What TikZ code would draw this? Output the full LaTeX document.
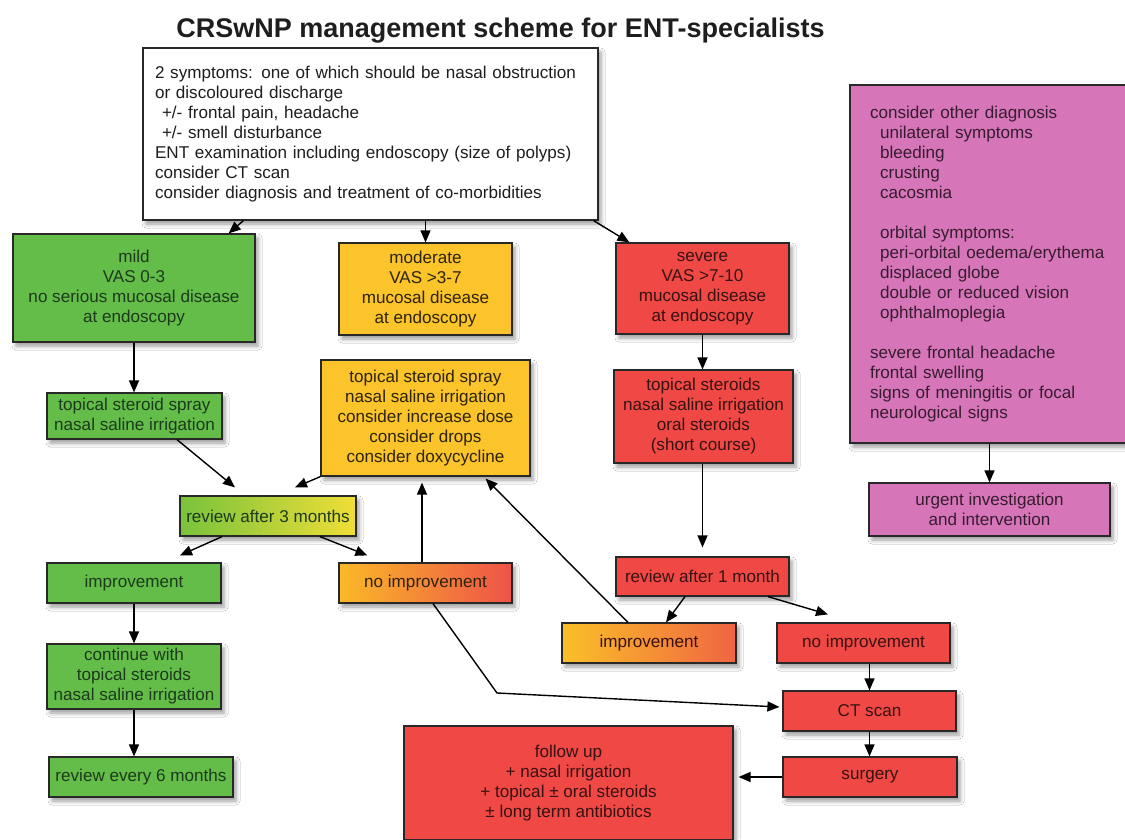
\documentclass[tikz,border=0pt]{standalone}
\usepackage{fontspec}
\setmainfont{Liberation Sans}
\usetikzlibrary{arrows.meta,shadows.blur,calc}
\definecolor{cborder}{RGB}{40,40,40}
\definecolor{cgreen}{RGB}{99,189,72}
\definecolor{cyellow}{RGB}{250,196,42}
\definecolor{cred}{RGB}{240,72,68}
\definecolor{cpink}{RGB}{214,117,183}
\definecolor{tgreen}{RGB}{28,58,28}
\definecolor{tyellow}{RGB}{45,35,10}
\definecolor{tred}{RGB}{55,18,18}
\definecolor{tpink}{RGB}{55,28,48}
\definecolor{ttop}{RGB}{30,30,30}
\definecolor{revL}{RGB}{120,195,60}
\definecolor{revR}{RGB}{240,222,55}
\definecolor{orL}{RGB}{250,185,40}
\definecolor{orR}{RGB}{238,82,72}
\definecolor{ibL}{RGB}{250,192,40}
\definecolor{ibR}{RGB}{240,100,66}
\begin{document}
\begin{tikzpicture}[x=1pt,y=-1pt,
  box/.style={draw=cborder, line width=1.2pt, rectangle, inner sep=2pt, align=center,
    font=\fontsize{17.1pt}{20pt}\selectfont,
    blur shadow={shadow xshift=3pt, shadow yshift=-4pt, shadow blur radius=4pt, shadow opacity=40}},
  wh/.style 2 args={minimum width=#1pt, minimum height=#2pt},
  gbox/.style={box, fill=cgreen, text=tgreen},
  ybox/.style={box, fill=cyellow, text=tyellow},
  rbox/.style={box, fill=cred, text=tred},
  pbox/.style={box, fill=cpink, text=tpink},
  arr/.style={draw=black, line width=1.4pt, -{Triangle[length=12pt,width=10pt]}}]
\useasboundingbox (0,0) rectangle (1125,839);
\fill[white] (0,0) rectangle (1125,839);

\node[font=\fontsize{27pt}{30pt}\selectfont\bfseries, anchor=base, text=ttop] (title) at (500.5,37) {CRSwNP management scheme for ENT-specialists};

\node[box, fill=white, text=ttop, wh={455}{172}, align=left, text width=431pt, inner xsep=12pt] (top) at (370.5,134) {2 symptoms: one of which should be nasal obstruction\\
or discoloured discharge\\
\hspace*{7pt}+/- frontal pain, headache\\
\hspace*{7pt}+/- smell disturbance\\
ENT examination including endoscopy (size of polyps)\\
consider CT scan\\
consider diagnosis and treatment of co-morbidities};

\node[gbox, wh={242}{108}] (mild) at (134,288) {mild\\VAS 0-3\\no serious mucosal disease\\at endoscopy};
\node[ybox, wh={173}{92}] (mod) at (425.5,289) {moderate\\VAS >3-7\\mucosal disease\\at endoscopy};
\node[rbox, wh={173}{91}] (sev) at (702.5,288.5) {severe\\VAS >7-10\\mucosal disease\\at endoscopy};

\node[pbox, wh={285}{358}, align=left, text width=245pt, inner xsep=20pt] (pink) at (992.5,264) {consider other diagnosis\\
\hspace*{10pt}unilateral symptoms\\
\hspace*{10pt}bleeding\\
\hspace*{10pt}crusting\\
\hspace*{10pt}cacosmia\\[20pt]
\hspace*{10pt}orbital symptoms:\\
\hspace*{10pt}peri-orbital oedema/erythema\\
\hspace*{10pt}displaced globe\\
\hspace*{10pt}double or reduced vision\\
\hspace*{10pt}ophthalmoplegia\\[20pt]
severe frontal headache\\
frontal swelling\\
signs of meningitis or focal\\
neurological signs};
\node[pbox, wh={241}{53}] (urgent) at (989.5,509.5) {urgent investigation\\and intervention};

\node[gbox, wh={175}{46}] (mildtx) at (134.5,416) {topical steroid spray\\nasal saline irrigation};
\node[ybox, wh={209}{116}] (modtx) at (425.5,418) {topical steroid spray\\nasal saline irrigation\\consider increase dose\\consider drops\\consider doxycycline};
\node[rbox, wh={179}{93}] (sevtx) at (703.5,416.5) {topical steroids\\nasal saline irrigation\\oral steroids\\(short course)};

\node[box, left color=revL, right color=revR, text=tgreen, wh={176}{40}] (rev3) at (268,516) {review after 3 months};
\node[gbox, wh={174}{40}] (impA) at (134,583) {improvement};
\node[box, left color=orL, right color=orR, text=tyellow, wh={173}{40}] (noimpA) at (425.5,583) {no improvement};
\node[gbox, wh={174}{65}] (cont) at (134,676.5) {continue with\\topical steroids\\nasal saline irrigation};
\node[gbox, wh={184}{40}] (rev6) at (141,777) {review every 6 months};

\node[rbox, wh={173}{39}] (rev1) at (702.5,576.5) {review after 1 month};
\node[box, left color=ibL, right color=ibR, text=tred, wh={174}{40}] (impB) at (649,643) {improvement};
\node[rbox, wh={173}{40}] (noimpB) at (863.5,643) {no improvement};
\node[rbox, wh={173}{40}] (ct) at (869.5,711) {CT scan};
\node[rbox, wh={174}{40}] (surg) at (870,777) {surgery};
\node[rbox, wh={329}{114}] (follow) at (568.5,783) {follow up\\+ nasal irrigation\\+ topical ± oral steroids\\± long term antibiotics};

\coordinate (bend) at (497,693);

\draw[arr] ([xshift=101pt]top.south west) -- ([xshift=-27pt]mild.north east);
\draw[arr] (top.south -| mod.north) -- (mod.north);
\draw[arr] ([xshift=-5pt]top.south east) -- ([xshift=14pt]sev.north west);
\draw[arr] (mild.south) -- (mild.south |- mildtx.north);
\draw[arr] ([xshift=42.5pt]mildtx.south) -- ([xshift=-33pt,yshift=8pt]rev3.north);
\draw[arr] (modtx.south west) -- ([xshift=27pt,yshift=8pt]rev3.north);
\draw[arr] ([xshift=-46pt]rev3.south) -- ([xshift=46pt,yshift=7pt]impA.north);
\draw[arr] ([xshift=52pt]rev3.south) -- ([xshift=29pt,yshift=7pt]noimpA.north west);
\draw[arr] ([xshift=-3.5pt]noimpA.north) -- ([xshift=-3.5pt,yshift=-6pt]modtx.south);
\draw[arr] ([xshift=-21pt]impB.north) -- ([xshift=-45pt,yshift=-2pt]modtx.south east);
\draw[arr] ([xshift=7.5pt]noimpA.south) -- (bend) -- ([xshift=-3pt,yshift=4pt]ct.west);
\draw[arr] (sev.south) -- (sev.south |- sevtx.north);
\draw[arr] (rev1.north |- sevtx.south) -- ([yshift=9pt]rev1.north);
\draw[arr] ([xshift=-17.5pt]rev1.south) -- ([xshift=17pt]impB.north);
\draw[arr] ([xshift=65.5pt]rev1.south) -- ([xshift=-35.5pt,yshift=8pt]noimpB.north);
\draw[arr] (ct.north |- noimpB.south) -- (ct.north);
\draw[arr] (ct.south) -- (ct.south |- surg.north);
\draw[arr] (surg.west) -- ([xshift=5pt]surg.west -| follow.east);
\draw[arr] (impA.south) -- (impA.south |- cont.north);
\draw[arr] (cont.south) -- (cont.south |- rev6.north);
\draw[arr] (pink.south -| urgent.north) -- (urgent.north);
\end{tikzpicture}
\end{document}
